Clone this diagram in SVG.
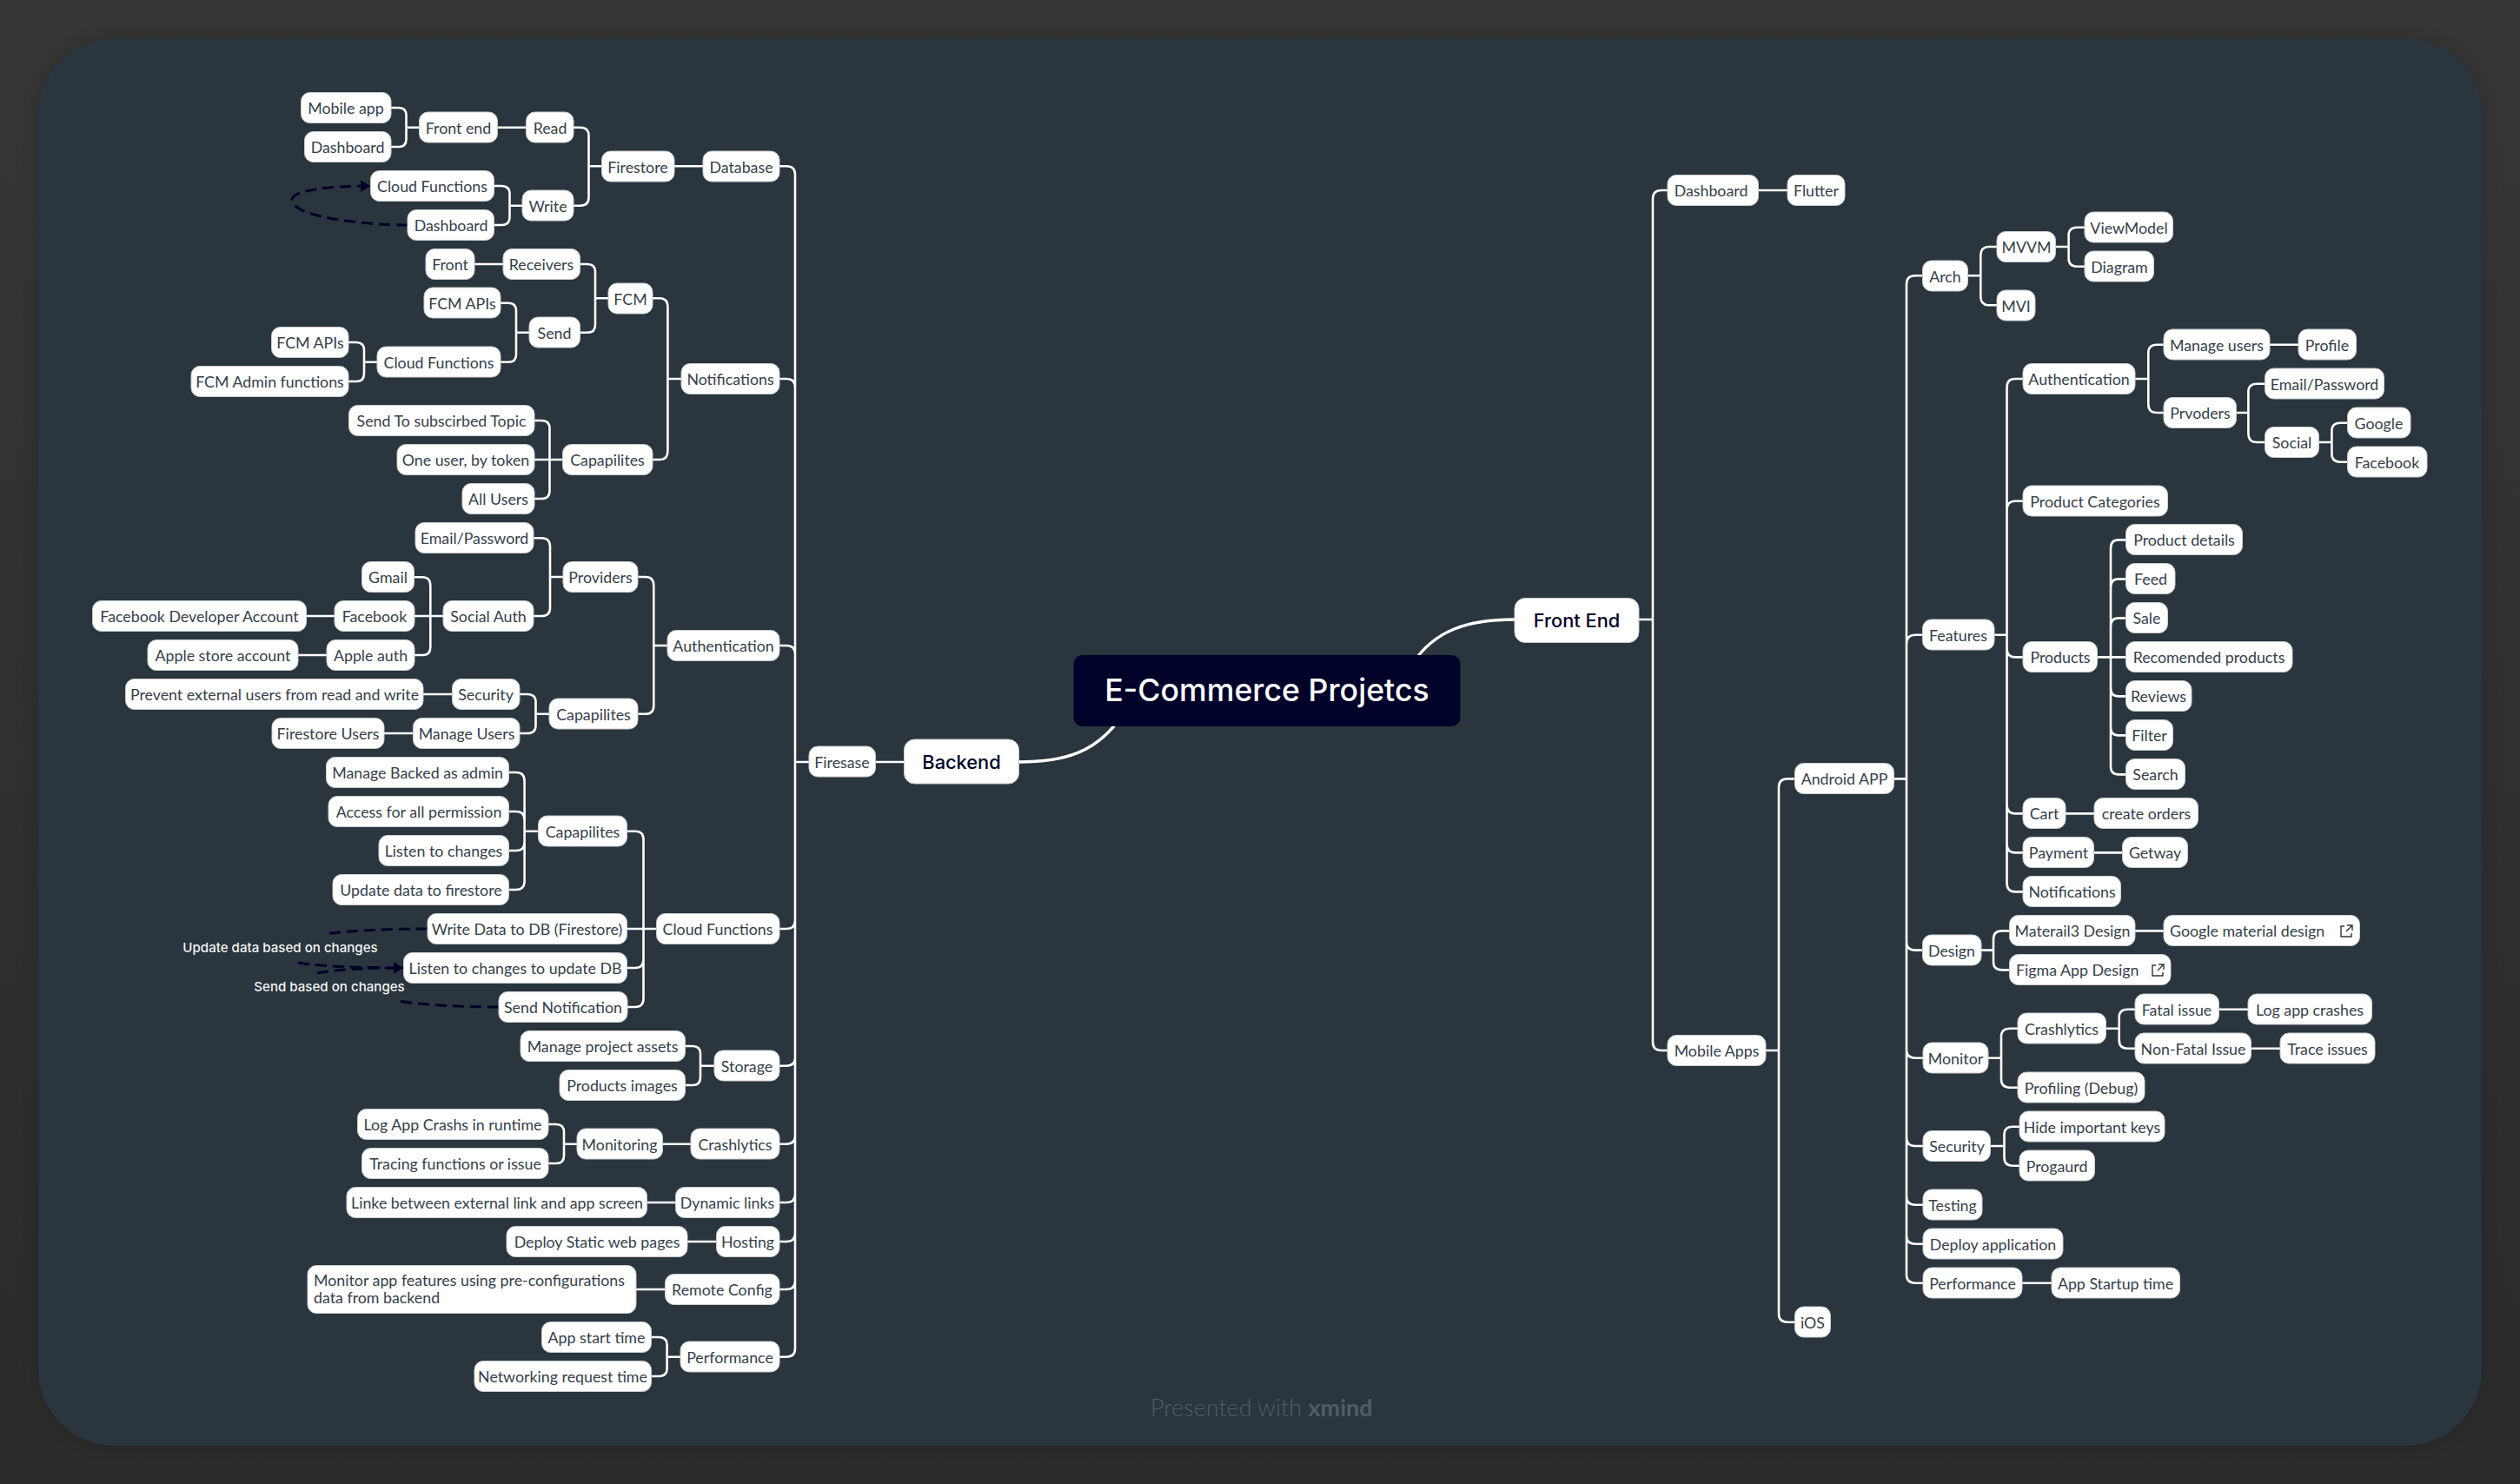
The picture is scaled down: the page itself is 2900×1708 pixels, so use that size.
<svg xmlns="http://www.w3.org/2000/svg" width="2900" height="1708" viewBox="0 0 2900 1708">
<style>
.n{fill:#fff;stroke:#c9ced2;stroke-width:1}
.t{font-family:"Lato","Liberation Sans",sans-serif;font-size:17.8px;fill:#35404a;text-anchor:middle;transform:translateY(1px)}
.l{text-anchor:start}
.c{fill:none;stroke:#fff;stroke-width:2.6}
.r{stroke-width:3.4}
.d{fill:none;stroke:#000229;stroke-width:3;stroke-dasharray:13 7}
.m{font-family:"Inter","Liberation Sans",sans-serif;font-weight:500;fill:#000229;text-anchor:middle;font-size:21.8px}
.lab{font-family:"Inter","Liberation Sans",sans-serif;font-weight:500;fill:#f2f4f5;font-size:15.1px;text-anchor:middle}
.i{fill:none;stroke:#2b3640;stroke-width:1.4}
</style>
<defs>
<linearGradient id="bg" x1="0" y1="0" x2="0" y2="1"><stop offset="0" stop-color="#363636"/><stop offset="1" stop-color="#2b2b2b"/></linearGradient>
<filter id="sh" x="-5%" y="-5%" width="110%" height="110%"><feDropShadow dx="0" dy="0" stdDeviation="12" flood-color="#000" flood-opacity=".18"/></filter>
<marker id="ah" markerUnits="userSpaceOnUse" markerWidth="12" markerHeight="14" refX="11" refY="7" orient="auto"><path d="M0 0L11 7L0 14Z" fill="#000229"/></marker>
</defs>
<rect width="2900" height="1708" fill="url(#bg)"/>
<rect x="44" y="44" width="2812" height="1620" rx="88" fill="#29353d" filter="url(#sh)"/>
<g id="connectors">
<path class="c r" d="M1172 877C1225 877 1262 866 1290 825"/>
<path class="c r" d="M1743 713C1690 713 1650 725 1625 765"/>
<path class="c" d="M1886 713H1902M1007 877H1040M915 877H931"/>
<path class="c" d="M897 191.3H905Q915 191.3 915 201V1552Q915 1561.7 905 1561.7H897M897 436H905Q915 436 915 446M897 743H905Q915 743 915 753M897 1069H905Q915 1069 915 1059M897 1226.7H905Q915 1226.7 915 1217M897 1316.7H905Q915 1316.7 915 1307M897 1384H905Q915 1384 915 1374M897 1429H905Q915 1429 915 1419M897 1484H905Q915 1484 915 1474"/>
<path class="c" d="M450 124H459Q467.5 124 467.5 133V160Q467.5 169 459 169H450M467.5 146.7H483M572 146.7H606"/>
<path class="c" d="M660 146.7H668Q677.5 146.7 677.5 156V227Q677.5 236.7 668 236.7H660M677.5 191.3H693M776 191.3H809"/>
<path class="c" d="M568.5 214H577Q586.5 214 586.5 223V250Q586.5 259 577 259H568.5M586.5 236.7H601"/>
<path class="c" d="M546 304H579"/>
<path class="c" d="M667.4 304H676Q685 304 685 313V374Q685 382.7 676 382.7H667.4M685 343.3H700"/>
<path class="c" d="M576 348.7H585Q594 348.7 594 358V408Q594 416.7 585 416.7H576M594 382.7H609"/>
<path class="c" d="M401 394H410Q419 394 419 403V430Q419 439 410 439H401M419 416.7H434"/>
<path class="c" d="M750.8 343.3H759Q768.4 343.3 768.4 353V519Q768.4 529 759 529H750.8M768.4 436H784"/>
<path class="c" d="M614.8 484H623Q632.5 484 632.5 493V565Q632.5 574 623 574H614.8M614.8 529H647.6"/>
<path class="c" d="M614.2 619.3H623Q633 619.3 633 629V700Q633 709 623 709H614.2M633 664H648"/>
<path class="c" d="M476.7 664.3H486Q495.3 664.3 495.3 674V745Q495.3 754 486 754H476.7M476.7 709H510"/>
<path class="c" d="M352 709H385M343 754H376M487 799H520M442 844H476"/>
<path class="c" d="M734.3 664H743Q752.3 664 752.3 674V812Q752.3 821.8 743 821.8H734.3M752.3 743H768"/>
<path class="c" d="M598 799H607Q616.5 799 616.5 808V835Q616.5 844 607 844H598M616.5 821.8H632"/>
<path class="c" d="M585.6 889H594Q603.6 889 603.6 899V1014Q603.6 1024 594 1024H585.6M585.6 934H594Q603.6 934 603.6 944M585.6 979H594Q603.6 979 603.6 969M603.6 956.8H619.3"/>
<path class="c" d="M721.4 956.8H731Q740.5 956.8 740.5 966V1149Q740.5 1159 731 1159H722M721.4 1069H755.6M721.4 1114H731Q740.5 1114 740.5 1104"/>
<path class="c" d="M788.5 1204H797Q806 1204 806 1213V1240Q806 1249 797 1249H788.5M806 1226.7H822"/>
<path class="c" d="M631 1294H640Q649 1294 649 1303V1330Q649 1339 640 1339H631M649 1316.7H664M762.6 1316.7H795"/>
<path class="c" d="M744.7 1384H777.5M791 1429H824M732 1484H765.6"/>
<path class="c" d="M749.7 1539H758Q767.6 1539 767.6 1548V1575Q767.6 1584 758 1584H749.7M767.6 1561.7H783"/>
<path class="c" d="M1919 219H1912Q1902 219 1902 229V1199Q1902 1209 1912 1209H1919M2023 219H2057"/>
<path class="c" d="M2032 1209H2047M2065 896.4H2057Q2047 896.4 2047 906V1512Q2047 1521.7 2057 1521.7H2066"/>
<path class="c" d="M2179 896.4H2194M2213 317.3H2204Q2194 317.3 2194 327V1467Q2194 1476.7 2204 1476.7H2213M2213 730.7H2204Q2194 730.7 2194 741M2213 1093.6H2204Q2194 1093.6 2194 1084M2213 1217.7H2204Q2194 1217.7 2194 1208M2213 1319H2204Q2194 1319 2194 1309M2213 1386.7H2204Q2194 1386.7 2194 1377M2213 1431.7H2204Q2194 1431.7 2194 1422"/>
<path class="c" d="M2264 317.3H2279.3M2298 284H2289Q2279.3 284 2279.3 294V341Q2279.3 351.3 2289 351.3H2298"/>
<path class="c" d="M2366 284H2380.6M2399 261.7H2390Q2380.6 261.7 2380.6 271V297Q2380.6 306.7 2390 306.7H2399"/>
<path class="c" d="M2295 730.7H2309.5M2328 436H2319Q2309.5 436 2309.5 446V1016Q2309.5 1026.4 2319 1026.4H2328M2328 576.7H2319Q2309.5 576.7 2309.5 587M2328 756.4H2319Q2309.5 756.4 2309.5 746M2328 936.4H2319Q2309.5 936.4 2309.5 926M2328 981.4H2319Q2309.5 981.4 2309.5 971"/>
<path class="c" d="M2457 436H2472.3M2490 396.7H2482Q2472.3 396.7 2472.3 406V465Q2472.3 475 2482 475H2490M2612 396.7H2645"/>
<path class="c" d="M2574 475H2587.4M2607 441.7H2597Q2587.4 441.7 2587.4 451V499Q2587.4 509 2597 509H2607"/>
<path class="c" d="M2668 509H2683.4M2701 486.7H2693Q2683.4 486.7 2683.4 496V522Q2683.4 531.7 2693 531.7H2701"/>
<path class="c" d="M2413 756.4H2446M2446 621.4H2438Q2429 621.4 2429 631V882Q2429 891.4 2438 891.4H2446M2446 666.4H2438Q2429 666.4 2429 676M2446 711.4H2438Q2429 711.4 2429 721M2446 801.4H2438Q2429 801.4 2429 792M2446 846.4H2438Q2429 846.4 2429 837"/>
<path class="c" d="M2377 936.4H2410M2410 981.4H2443"/>
<path class="c" d="M2280 1093.6H2294M2313 1071.4H2304Q2294 1071.4 2294 1081V1107Q2294 1116.4 2304 1116.4H2313M2457 1071.4H2490"/>
<path class="c" d="M2288 1217.7H2303M2322 1183.7H2313Q2303 1183.7 2303 1193V1242Q2303 1251.7 2313 1251.7H2322"/>
<path class="c" d="M2423 1183.7H2438.7M2457 1161.7H2448Q2438.7 1161.7 2438.7 1171V1197Q2438.7 1206.7 2448 1206.7H2457M2553 1161.7H2587M2591 1206.7H2624"/>
<path class="c" d="M2291 1319H2306.5M2324 1296.7H2316Q2306.5 1296.7 2306.5 1306V1332Q2306.5 1341.7 2316 1341.7H2324M2327 1476.7H2361"/>
<path class="d" marker-end="url(#ah)" d="M469 259C420 259 336 250 336 230C336 218 385 214 426 214"/>
<path class="d" d="M492 1069C445 1069 405 1071 373 1075"/>
<path class="d" marker-end="url(#ah)" d="M343 1108C375 1113 420 1114 464 1114"/>
<path class="d" d="M365 1120C385 1116 420 1114 450 1114"/>
<path class="d" d="M574 1159C530 1159 490 1157 458 1152"/>
</g>
<g id="root"><rect x="1235.5" y="754" width="445" height="82" rx="10" fill="#000229"/><text x="1458" y="807" font-family="Inter,'Liberation Sans',sans-serif" font-weight="500" font-size="35.7" fill="#fff" text-anchor="middle">E-Commerce Projetcs</text></g>
<g id="n-backend"><rect class="n" x="1040.5" y="851" width="132" height="51" rx="12"/><text class="m" x="1106.5" y="885">Backend</text></g>
<g id="n-frontend"><rect class="n" x="1743" y="688.5" width="143" height="51" rx="12"/><text class="m" x="1814.5" y="722">Front End</text></g>
<g id="n-firesase"><rect class="n" x="931" y="859" width="76.5" height="35" rx="10"/><text class="t" x="969" y="882.5">Firesase</text></g>
<g id="backend-nodes">
<g id="b1"><rect class="n" x="346.5" y="106.5" width="103.5" height="35" rx="10"/><text class="t" x="398" y="130">Mobile app</text></g>
<g id="b2"><rect class="n" x="350.5" y="151.5" width="99.5" height="35" rx="10"/><text class="t" x="400" y="175">Dashboard</text></g>
<g id="b3"><rect class="n" x="482.5" y="129" width="90" height="35" rx="10"/><text class="t" x="527.5" y="152.5">Front end</text></g>
<g id="b4"><rect class="n" x="605.5" y="129" width="54.5" height="35" rx="10"/><text class="t" x="633" y="152.5">Read</text></g>
<g id="b5"><rect class="n" x="692.5" y="174" width="83.5" height="35" rx="10"/><text class="t" x="734" y="197.5">Firestore</text></g>
<g id="b6"><rect class="n" x="809" y="174" width="88" height="35" rx="10"/><text class="t" x="853" y="197.5">Database</text></g>
<g id="b7"><rect class="n" x="426.5" y="196.5" width="142" height="35" rx="10"/><text class="t" x="497.5" y="220">Cloud Functions</text></g>
<g id="b8"><rect class="n" x="469" y="241.5" width="99.5" height="35" rx="10"/><text class="t" x="519" y="265">Dashboard</text></g>
<g id="b9"><rect class="n" x="601" y="219" width="59" height="35" rx="10"/><text class="t" x="630.5" y="242.5">Write</text></g>
<g id="b10"><rect class="n" x="490" y="286.5" width="56" height="35" rx="10"/><text class="t" x="518" y="310">Front</text></g>
<g id="b11"><rect class="n" x="579" y="286.5" width="88.5" height="35" rx="10"/><text class="t" x="623" y="310">Receivers</text></g>
<g id="b12"><rect class="n" x="700" y="326" width="51" height="35" rx="10"/><text class="t" x="725.5" y="349.5">FCM</text></g>
<g id="b13"><rect class="n" x="488" y="331" width="88" height="35" rx="10"/><text class="t" x="532" y="354.5">FCM APIs</text></g>
<g id="b14"><rect class="n" x="609" y="365" width="58.5" height="35" rx="10"/><text class="t" x="638" y="388.5">Send</text></g>
<g id="b15"><rect class="n" x="312.5" y="376.5" width="88.5" height="35" rx="10"/><text class="t" x="357" y="400">FCM APIs</text></g>
<g id="b16"><rect class="n" x="434" y="399" width="142" height="35" rx="10"/><text class="t" x="505" y="422.5">Cloud Functions</text></g>
<g id="b17"><rect class="n" x="220" y="421.5" width="181" height="35" rx="10"/><text class="t" x="310.5" y="445">FCM Admin functions</text></g>
<g id="b18"><rect class="n" x="784" y="418.5" width="113" height="35" rx="10"/><text class="t" x="840.5" y="442">Notifications</text></g>
<g id="b19"><rect class="n" x="401.5" y="466.5" width="213.5" height="35" rx="10"/><text class="t" x="508" y="490">Send To subscirbed Topic</text></g>
<g id="b20"><rect class="n" x="457" y="511.5" width="158" height="35" rx="10"/><text class="t" x="536" y="535">One user, by token</text></g>
<g id="b21"><rect class="n" x="532" y="556.5" width="83" height="35" rx="10"/><text class="t" x="573.5" y="580">All Users</text></g>
<g id="b22"><rect class="n" x="647.5" y="511.5" width="103.5" height="35" rx="10"/><text class="t" x="699" y="535">Capapilites</text></g>
<g id="b23"><rect class="n" x="478" y="601.5" width="136" height="35" rx="10"/><text class="t" x="546" y="625">Email/Password</text></g>
<g id="b24"><rect class="n" x="416.5" y="646.5" width="60" height="35" rx="10"/><text class="t" x="446.5" y="670">Gmail</text></g>
<g id="b25"><rect class="n" x="648" y="646.5" width="86" height="35" rx="10"/><text class="t" x="691" y="670">Providers</text></g>
<g id="b26"><rect class="n" x="106.5" y="691.5" width="246" height="35" rx="10"/><text class="t" x="229.5" y="715">Facebook Developer Account</text></g>
<g id="b27"><rect class="n" x="385" y="691.5" width="92" height="35" rx="10"/><text class="t" x="431" y="715">Facebook</text></g>
<g id="b28"><rect class="n" x="510" y="691.5" width="104" height="35" rx="10"/><text class="t" x="562" y="715">Social Auth</text></g>
<g id="b29"><rect class="n" x="170" y="736.5" width="173" height="35" rx="10"/><text class="t" x="256.5" y="760">Apple store account</text></g>
<g id="b30"><rect class="n" x="376" y="736.5" width="101" height="35" rx="10"/><text class="t" x="426.5" y="760">Apple auth</text></g>
<g id="b31"><rect class="n" x="768" y="725.5" width="129" height="35" rx="10"/><text class="t" x="832.5" y="749">Authentication</text></g>
<g id="b32"><rect class="n" x="144.5" y="781.5" width="342.5" height="35" rx="10"/><text class="t" x="316" y="805">Prevent external users from read and write</text></g>
<g id="b33"><rect class="n" x="520.5" y="781.5" width="77.5" height="35" rx="10"/><text class="t" x="559" y="805">Security</text></g>
<g id="b34"><rect class="n" x="632" y="804" width="102" height="35" rx="10"/><text class="t" x="683" y="827.5">Capapilites</text></g>
<g id="b35"><rect class="n" x="313" y="826.5" width="129" height="35" rx="10"/><text class="t" x="377.5" y="850">Firestore Users</text></g>
<g id="b36"><rect class="n" x="475.5" y="826.5" width="122.5" height="35" rx="10"/><text class="t" x="537" y="850">Manage Users</text></g>
<g id="b37"><rect class="n" x="375.5" y="871.5" width="210" height="35" rx="10"/><text class="t" x="480.5" y="895">Manage Backed as admin</text></g>
<g id="b38"><rect class="n" x="378" y="916.5" width="207.5" height="35" rx="10"/><text class="t" x="482" y="940">Access for all permission</text></g>
<g id="b39"><rect class="n" x="436" y="961.5" width="149.5" height="35" rx="10"/><text class="t" x="510.5" y="985">Listen to changes</text></g>
<g id="b40"><rect class="n" x="383" y="1006.5" width="202.5" height="35" rx="10"/><text class="t" x="484.5" y="1030">Update data to firestore</text></g>
<g id="b41"><rect class="n" x="619.5" y="939" width="102" height="35" rx="10"/><text class="t" x="670.5" y="962.5">Capapilites</text></g>
<g id="b42"><rect class="n" x="492" y="1051.5" width="229.5" height="35" rx="10"/><text class="t" x="606.5" y="1075">Write Data to DB (Firestore)</text></g>
<g id="b43"><rect class="n" x="755.5" y="1051.5" width="141.5" height="35" rx="10"/><text class="t" x="826" y="1075">Cloud Functions</text></g>
<g id="b44"><rect class="n" x="464.5" y="1096.5" width="257" height="35" rx="10"/><text class="t" x="593" y="1120">Listen to changes to update DB</text></g>
<g id="b45"><rect class="n" x="574" y="1141.5" width="148" height="35" rx="10"/><text class="t" x="648" y="1165">Send Notification</text></g>
<g id="b46"><rect class="n" x="599" y="1186.5" width="189.5" height="35" rx="10"/><text class="t" x="693.5" y="1210">Manage project assets</text></g>
<g id="b47"><rect class="n" x="644" y="1231.5" width="144.5" height="35" rx="10"/><text class="t" x="716" y="1255">Products images</text></g>
<g id="b48"><rect class="n" x="822" y="1209" width="75" height="35" rx="10"/><text class="t" x="859.5" y="1232.5">Storage</text></g>
<g id="b49"><rect class="n" x="411.5" y="1276.5" width="219.5" height="35" rx="10"/><text class="t" x="521" y="1300">Log App Crashs in runtime</text></g>
<g id="b50"><rect class="n" x="416.5" y="1321.5" width="214.5" height="35" rx="10"/><text class="t" x="524" y="1345">Tracing functions or issue</text></g>
<g id="b51"><rect class="n" x="664" y="1299" width="98.5" height="35" rx="10"/><text class="t" x="713" y="1322.5">Monitoring</text></g>
<g id="b52"><rect class="n" x="795" y="1299" width="102" height="35" rx="10"/><text class="t" x="846" y="1322.5">Crashlytics</text></g>
<g id="b53"><rect class="n" x="399" y="1366.5" width="345.5" height="35" rx="10"/><text class="t" x="572" y="1390">Linke between external link and app screen</text></g>
<g id="b54"><rect class="n" x="777.5" y="1366.5" width="119.5" height="35" rx="10"/><text class="t" x="837" y="1390">Dynamic links</text></g>
<g id="b55"><rect class="n" x="583" y="1411.5" width="208" height="35" rx="10"/><text class="t" x="687" y="1435">Deploy Static web pages</text></g>
<g id="b56"><rect class="n" x="824.5" y="1411.5" width="72.5" height="35" rx="10"/><text class="t" x="860.5" y="1435">Hosting</text></g>
<g id="b57"><rect class="n" x="354" y="1456.5" width="378" height="55" rx="10"/><text class="t l" x="361" y="1479">Monitor app features using pre-configurations</text><text class="t l" x="361" y="1499">data from backend</text></g>
<g id="b58"><rect class="n" x="765.5" y="1466.5" width="131.5" height="35" rx="10"/><text class="t" x="831" y="1490">Remote Config</text></g>
<g id="b59"><rect class="n" x="623.5" y="1521.5" width="126" height="35" rx="10"/><text class="t" x="686.5" y="1545">App start time</text></g>
<g id="b60"><rect class="n" x="546" y="1566.5" width="203.5" height="35" rx="10"/><text class="t" x="647.5" y="1590">Networking request time</text></g>
<g id="b61"><rect class="n" x="783" y="1544" width="114" height="35" rx="10"/><text class="t" x="840" y="1567.5">Performance</text></g>
</g>
<g id="frontend-nodes">
<g id="f1"><rect class="n" x="1919" y="201.5" width="104.5" height="35" rx="10"/><text class="t" x="1969" y="225">Dashboard</text></g>
<g id="f2"><rect class="n" x="2057" y="201.5" width="66" height="35" rx="10"/><text class="t" x="2090" y="225">Flutter</text></g>
<g id="f3"><rect class="n" x="2212.5" y="300" width="52" height="35" rx="10"/><text class="t" x="2238.5" y="323.5">Arch</text></g>
<g id="f4"><rect class="n" x="2298" y="266.5" width="67.5" height="35" rx="10"/><text class="t" x="2332" y="290">MVVM</text></g>
<g id="f5"><rect class="n" x="2399" y="244" width="101.5" height="35" rx="10"/><text class="t" x="2450" y="267.5">ViewModel</text></g>
<g id="f6"><rect class="n" x="2399" y="289" width="79.5" height="35" rx="10"/><text class="t" x="2439" y="312.5">Diagram</text></g>
<g id="f7"><rect class="n" x="2298" y="334" width="44" height="35" rx="10"/><text class="t" x="2320" y="357.5">MVI</text></g>
<g id="f8"><rect class="n" x="2328" y="418.5" width="129" height="35" rx="10"/><text class="t" x="2392.5" y="442">Authentication</text></g>
<g id="f9"><rect class="n" x="2490" y="379" width="122" height="35" rx="10"/><text class="t" x="2551" y="402.5">Manage users</text></g>
<g id="f10"><rect class="n" x="2645" y="379" width="66.5" height="35" rx="10"/><text class="t" x="2678" y="402.5">Profile</text></g>
<g id="f11"><rect class="n" x="2490" y="457.5" width="83.5" height="35" rx="10"/><text class="t" x="2532" y="481">Prvoders</text></g>
<g id="f12"><rect class="n" x="2606.5" y="424" width="137" height="35" rx="10"/><text class="t" x="2675" y="447.5">Email/Password</text></g>
<g id="f13"><rect class="n" x="2606.5" y="491.5" width="62" height="35" rx="10"/><text class="t" x="2637.5" y="515">Social</text></g>
<g id="f14"><rect class="n" x="2701.5" y="469" width="72.5" height="35" rx="10"/><text class="t" x="2737.5" y="492.5">Google</text></g>
<g id="f15"><rect class="n" x="2701.5" y="514" width="91.5" height="35" rx="10"/><text class="t" x="2747" y="537.5">Facebook</text></g>
<g id="f16"><rect class="n" x="2328" y="559" width="166.5" height="35" rx="10"/><text class="t" x="2411" y="582.5">Product Categories</text></g>
<g id="f17"><rect class="n" x="2446.5" y="603.5" width="134" height="35" rx="10"/><text class="t" x="2513.5" y="627">Product details</text></g>
<g id="f18"><rect class="n" x="2446.5" y="648.5" width="56.5" height="35" rx="10"/><text class="t" x="2475" y="672">Feed</text></g>
<g id="f19"><rect class="n" x="2446.5" y="693.5" width="48" height="35" rx="10"/><text class="t" x="2470.5" y="717">Sale</text></g>
<g id="f20"><rect class="n" x="2446.5" y="738.5" width="191.5" height="35" rx="10"/><text class="t" x="2542" y="762">Recomended products</text></g>
<g id="f21"><rect class="n" x="2446.5" y="783.5" width="75.5" height="35" rx="10"/><text class="t" x="2484" y="807">Reviews</text></g>
<g id="f22"><rect class="n" x="2446.5" y="828.5" width="54" height="35" rx="10"/><text class="t" x="2473.5" y="852">Filter</text></g>
<g id="f23"><rect class="n" x="2446.5" y="873.5" width="68" height="35" rx="10"/><text class="t" x="2480.5" y="897">Search</text></g>
<g id="f24"><rect class="n" x="2328" y="738.5" width="85.5" height="35" rx="10"/><text class="t" x="2371" y="762">Products</text></g>
<g id="f25"><rect class="n" x="2212.5" y="713" width="82.5" height="35" rx="10"/><text class="t" x="2253.5" y="736.5">Features</text></g>
<g id="f26"><rect class="n" x="2065.5" y="878.5" width="114" height="35" rx="10"/><text class="t" x="2122.5" y="902">Android APP</text></g>
<g id="f27"><rect class="n" x="2328" y="918.5" width="49" height="35" rx="10"/><text class="t" x="2352.5" y="942">Cart</text></g>
<g id="f28"><rect class="n" x="2410" y="918.5" width="119.5" height="35" rx="10"/><text class="t" x="2470" y="942">create orders</text></g>
<g id="f29"><rect class="n" x="2328" y="963.5" width="81.5" height="35" rx="10"/><text class="t" x="2369" y="987">Payment</text></g>
<g id="f30"><rect class="n" x="2442.5" y="963.5" width="75" height="35" rx="10"/><text class="t" x="2480" y="987">Getway</text></g>
<g id="f31"><rect class="n" x="2328" y="1008.5" width="112.5" height="35" rx="10"/><text class="t" x="2384.5" y="1032">Notifications</text></g>
<g id="f32"><rect class="n" x="2312.5" y="1053.5" width="144.5" height="35" rx="10"/><text class="t" x="2385" y="1077">Materail3 Design</text></g>
<g id="f33"><rect class="n" x="2490" y="1053.5" width="225.5" height="35" rx="10"/><text class="t l" x="2497" y="1077">Google material design</text><path class="i" d="M2698 1066H2694V1078H2706V1074M2701 1065H2707V1071M2707 1065L2700 1072"/></g>
<g id="f34"><rect class="n" x="2312.5" y="1098.5" width="185.5" height="35" rx="10"/><text class="t l" x="2320" y="1122">Figma App Design</text><path class="i" d="M2481 1111H2477V1123H2489V1119M2484 1110H2490V1116M2490 1110L2483 1117"/></g>
<g id="f35"><rect class="n" x="2212.5" y="1076" width="67.5" height="35" rx="10"/><text class="t" x="2246" y="1099.5">Design</text></g>
<g id="f36"><rect class="n" x="1919" y="1191.5" width="113" height="35" rx="10"/><text class="t" x="1975.5" y="1215">Mobile Apps</text></g>
<g id="f37"><rect class="n" x="2457" y="1144" width="96.5" height="35" rx="10"/><text class="t" x="2505" y="1167.5">Fatal issue</text></g>
<g id="f38"><rect class="n" x="2587" y="1144" width="142.5" height="35" rx="10"/><text class="t" x="2658" y="1167.5">Log app crashes</text></g>
<g id="f39"><rect class="n" x="2322" y="1166" width="101.5" height="35" rx="10"/><text class="t" x="2372.5" y="1189.5">Crashlytics</text></g>
<g id="f40"><rect class="n" x="2457" y="1189" width="133.5" height="35" rx="10"/><text class="t" x="2524" y="1212.5">Non-Fatal Issue</text></g>
<g id="f41"><rect class="n" x="2624" y="1189" width="109" height="35" rx="10"/><text class="t" x="2678.5" y="1212.5">Trace issues</text></g>
<g id="f42"><rect class="n" x="2213" y="1200" width="75" height="35" rx="10"/><text class="t" x="2250.5" y="1223.5">Monitor</text></g>
<g id="f43"><rect class="n" x="2322" y="1234" width="146" height="35" rx="10"/><text class="t" x="2395" y="1257.5">Profiling (Debug)</text></g>
<g id="f44"><rect class="n" x="2324" y="1279" width="167" height="35" rx="10"/><text class="t" x="2407.5" y="1302.5">Hide important keys</text></g>
<g id="f45"><rect class="n" x="2324" y="1324" width="86.5" height="35" rx="10"/><text class="t" x="2367" y="1347.5">Progaurd</text></g>
<g id="f46"><rect class="n" x="2213" y="1301.5" width="77.5" height="35" rx="10"/><text class="t" x="2252" y="1325">Security</text></g>
<g id="f47"><rect class="n" x="2213" y="1369" width="68" height="35" rx="10"/><text class="t" x="2247" y="1392.5">Testing</text></g>
<g id="f48"><rect class="n" x="2213" y="1414" width="161" height="35" rx="10"/><text class="t" x="2293.5" y="1437.5">Deploy application</text></g>
<g id="f49"><rect class="n" x="2213" y="1459" width="114" height="35" rx="10"/><text class="t" x="2270" y="1482.5">Performance</text></g>
<g id="f50"><rect class="n" x="2361" y="1459" width="147.5" height="35" rx="10"/><text class="t" x="2434.5" y="1482.5">App Startup time</text></g>
<g id="f51"><rect class="n" x="2065.5" y="1504" width="41" height="35" rx="10"/><text class="t" x="2086" y="1527.5">iOS</text></g>
</g>
<text class="lab" x="322.5" y="1096">Update data based on changes</text>
<text class="lab" x="379" y="1141">Send based on changes</text>
<text x="1324" y="1630" font-family="Lato,'Liberation Sans',sans-serif" font-size="27" fill="#525c66" font-weight="300">Presented with <tspan font-weight="700">xmind</tspan></text>
</svg>
